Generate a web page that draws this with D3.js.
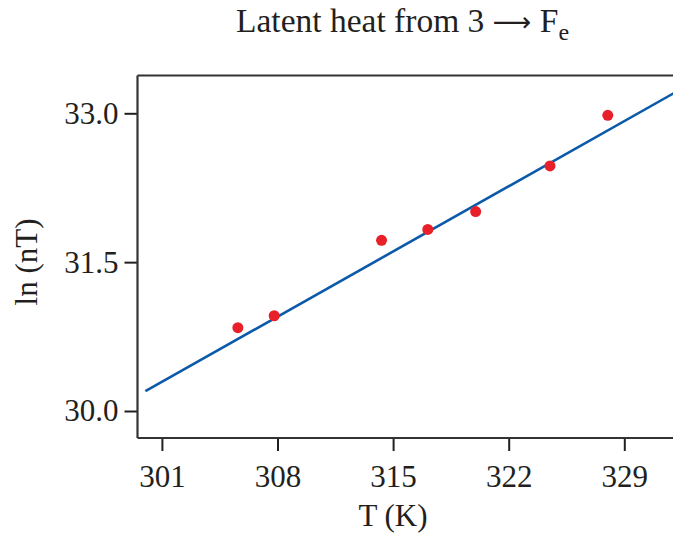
<!DOCTYPE html>
<html><head><meta charset="utf-8">
<script src="https://cdn.jsdelivr.net/npm/d3@7"></script>
<style>
body{margin:0;background:#fff;overflow:hidden}
text{font-family:"Liberation Serif","DejaVu Serif",serif;fill:#231f20}
</style></head>
<body><svg id="c" width="673" height="533"></svg>
<script>
const temps = [305.6, 307.8, 314.3, 317.1, 320.0, 324.5, 328.0];
const lnNT  = [30.84, 30.96, 31.72, 31.83, 32.01, 32.47, 32.98];
const fitT  = [300.0, 332.5];
const fitY  = [30.20, 33.25];
const xTicks = [301, 308, 315, 322, 329];
const yTicks = [30.0, 31.5, 33.0];

const svg = d3.select("#c");
const L = 137.5, T = 75.5, B = 438, R = 673;
const x = d3.scaleLinear().domain([301, 329]).range([161.9, 624.3]);
const y = d3.scaleLinear().domain([30, 33]).range([411, 113.3]);

svg.append("defs").append("clipPath").attr("id","clip")
  .append("rect").attr("x",L).attr("y",T).attr("width",R-L).attr("height",B-T);

const FS = "31px";
// axes
const ax = svg.append("g").attr("transform",`translate(0,${B})`)
  .call(d3.axisBottom(x).tickValues(xTicks).tickSize(13).tickPadding(14).tickFormat(d3.format("d")));
const ay = svg.append("g").attr("transform",`translate(${L},0)`)
  .call(d3.axisLeft(y).tickValues(yTicks).tickSize(13).tickPadding(6).tickFormat(d3.format(".1f")));
[ax, ay].forEach(g=>{
  g.select(".domain").remove();
  g.selectAll(".tick line").attr("stroke","#231f20").attr("stroke-width",2);
  g.selectAll(".tick text").style("font-family","'Liberation Serif',serif").style("font-size",FS).attr("fill","#231f20");
});

// frame (left, top, bottom)
const fr = svg.append("g").attr("stroke","#333").attr("stroke-width",2.2).attr("fill","none");
fr.append("line").attr("x1",L).attr("x2",R).attr("y1",T).attr("y2",T);
fr.append("line").attr("x1",L).attr("x2",R).attr("y1",B).attr("y2",B);
fr.append("line").attr("x1",L).attr("x2",L).attr("y1",T).attr("y2",B);

// fit line
const plot = svg.append("g").attr("clip-path","url(#clip)");
plot.append("path")
  .datum(fitT.map((t,i)=>[t,fitY[i]]))
  .attr("d", d3.line().x(d=>x(d[0])).y(d=>y(d[1])))
  .attr("stroke","#0b5aa9").attr("stroke-width",2.6).attr("fill","none");

// points
plot.selectAll("circle").data(temps).join("circle")
  .attr("cx",d=>x(d)).attr("cy",(d,i)=>y(lnNT[i])).attr("r",5.5).attr("fill","#e8202a");

// titles
const title = svg.append("text").attr("x",236).attr("y",32).style("font-size","33.5px");
title.append("tspan").text("Latent heat from 3 ");
title.append("tspan").style("font-family","'DejaVu Sans',sans-serif").style("font-size","27px").attr("dy",-1).text("\u27F6");
title.append("tspan").attr("dy",1).text(" F");
title.append("tspan").attr("dy",8).style("font-size","24px").text("e");

svg.append("text").attr("x",393).attr("y",526).attr("text-anchor","middle").style("font-size",FS).text("T (K)");
svg.append("text").attr("transform","translate(37,262) rotate(-90)").attr("text-anchor","middle").style("font-size",FS).text("ln (nT)");
</script></body></html>
